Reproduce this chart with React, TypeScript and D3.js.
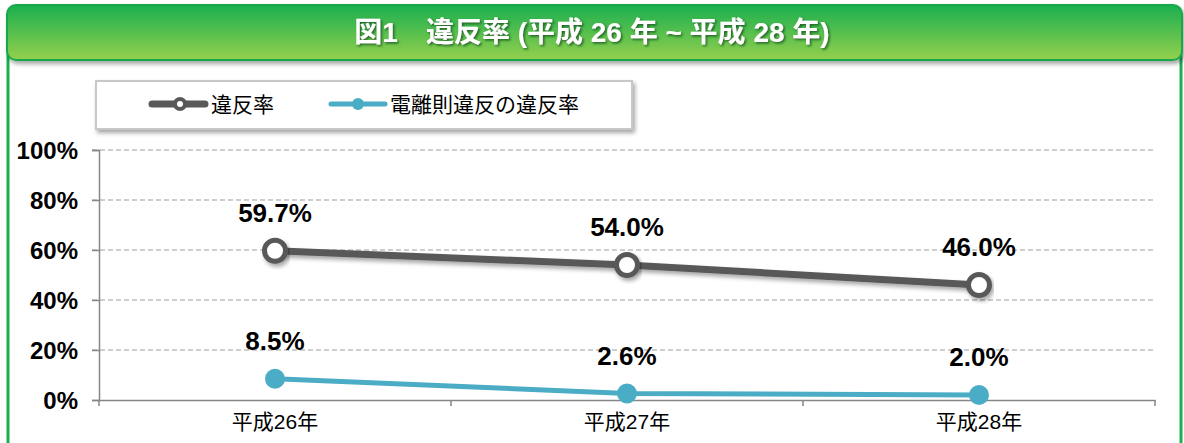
import React, { useEffect, useRef } from 'react';
import * as d3 from 'd3';

const W = 1184;
const H = 443;

const categories = ['平成26年', '平成27年', '平成28年'];
const violationRate = [59.7, 54.0, 46.0];
const ionizingRate = [8.5, 2.6, 2.0];
const yTicks = [0, 20, 40, 60, 80, 100];

const FONT = '"Liberation Sans", Arial, "Noto Sans CJK JP", sans-serif';

const App = () => {
  const ref = useRef<SVGSVGElement>(null);

  useEffect(() => {
    const svg = d3.select(ref.current);
    svg.selectAll('*').remove();

    const defs = svg.append('defs');
    const grad = defs.append('linearGradient').attr('id', 'hdr').attr('x1', 0).attr('y1', 0).attr('x2', 0).attr('y2', 1);
    grad.append('stop').attr('offset', '0%').attr('stop-color', '#1aaf4f');
    grad.append('stop').attr('offset', '100%').attr('stop-color', '#94d04e');

    const sh = defs.append('filter').attr('id', 'sh').attr('x', '-20%').attr('y', '-20%').attr('width', '140%').attr('height', '160%');
    sh.append('feDropShadow').attr('dx', 2).attr('dy', 3).attr('stdDeviation', 2).attr('flood-color', '#000').attr('flood-opacity', 0.35);
    const tsh = defs.append('filter').attr('id', 'tsh');
    tsh.append('feDropShadow').attr('dx', 1.5).attr('dy', 1.5).attr('stdDeviation', 1).attr('flood-color', '#0a4a1a').attr('flood-opacity', 0.8);

    // frame body
    svg.append('rect').attr('x', 8).attr('y', 30).attr('width', 1173).attr('height', 440)
      .attr('fill', '#fff').attr('stroke', '#1aaf4f').attr('stroke-width', 3);

    // header band
    svg.append('rect').attr('x', 7).attr('y', 5).attr('width', 1175).attr('height', 55).attr('rx', 9)
      .attr('fill', 'url(#hdr)').attr('stroke', '#18a94b').attr('stroke-width', 2).attr('filter', 'url(#sh)');
    svg.append('text').attr('x', 592).attr('y', 42).attr('text-anchor', 'middle')
      .attr('fill', '#fff').attr('font-size', 28).attr('font-weight', 'bold').attr('font-family', FONT)
      .attr('filter', 'url(#tsh)')
      .text('図1　違反率 (平成 26 年 ~ 平成 28 年)');

    const x = d3.scaleBand().domain(categories).range([99, 1155]);
    const y = d3.scaleLinear().domain([0, 100]).range([400, 150]);
    const cx = (c: string) => (x(c) as number) + x.bandwidth() / 2;

    // grid
    svg.append('g').selectAll('line').data(yTicks.filter(t => t > 0)).join('line')
      .attr('x1', 92).attr('x2', 1155).attr('y1', d => y(d)).attr('y2', d => y(d))
      .attr('stroke', '#bfbfbf').attr('stroke-width', 1.3).attr('stroke-dasharray', '5,3');

    // y axis
    const ya = svg.append('g').attr('transform', 'translate(99,0)')
      .call(d3.axisLeft(y).tickValues(yTicks).tickSize(7).tickPadding(14).tickFormat(d => `${d}%`));
    ya.select('.domain').attr('stroke', '#868686').attr('stroke-width', 1.5);
    ya.selectAll('line').attr('stroke', '#868686').attr('stroke-width', 1.5);
    ya.selectAll('text').attr('font-size', 24).attr('font-weight', 'bold').attr('font-family', FONT)
      .attr('fill', '#000').attr('dy', '0.35em');

    // x axis
    const xa = svg.append('g').attr('transform', 'translate(0,400)')
      .call(d3.axisBottom(x).tickSize(0).tickPadding(14));
    xa.select('.domain').attr('stroke', '#868686').attr('stroke-width', 1.5);
    xa.selectAll('text').attr('font-size', 21).attr('font-family', FONT).attr('fill', '#000');
    const bounds = [...categories.map(c => x(c) as number), 1155];
    svg.append('g').selectAll('line').data(bounds).join('line')
      .attr('x1', d => d).attr('x2', d => d).attr('y1', 400).attr('y2', 406)
      .attr('stroke', '#868686').attr('stroke-width', 1.5);

    const line = d3.line<number>().x((_, i) => cx(categories[i])).y(d => y(d));

    // blue series
    svg.append('path').datum(ionizingRate).attr('d', line).attr('fill', 'none')
      .attr('stroke', '#4bacc6').attr('stroke-width', 5);
    svg.append('g').selectAll('circle').data(ionizingRate).join('circle')
      .attr('cx', (_, i) => cx(categories[i])).attr('cy', d => y(d)).attr('r', 10).attr('fill', '#4bacc6');

    // gray series
    svg.append('path').datum(violationRate).attr('d', line).attr('fill', 'none')
      .attr('stroke', '#595959').attr('stroke-width', 7).attr('filter', 'url(#sh)');
    svg.append('g').selectAll('circle').data(violationRate).join('circle')
      .attr('cx', (_, i) => cx(categories[i])).attr('cy', d => y(d)).attr('r', 10.5)
      .attr('fill', '#fff').attr('stroke', '#595959').attr('stroke-width', 5).attr('filter', 'url(#sh)');

    // data labels
    const lbl = (data: number[]) => svg.append('g').selectAll('text').data(data).join('text')
      .attr('x', (_, i) => cx(categories[i])).attr('y', d => y(d) - 29)
      .attr('text-anchor', 'middle').attr('font-size', 26).attr('font-weight', 'bold')
      .attr('font-family', FONT).attr('fill', '#000').text(d => `${d.toFixed(1)}%`);
    lbl(violationRate);
    lbl(ionizingRate);

    // legend
    const lg = svg.append('g');
    lg.append('rect').attr('x', 96).attr('y', 81).attr('width', 536).attr('height', 48)
      .attr('fill', '#fff').attr('stroke', '#c8c8c8').attr('stroke-width', 2).attr('filter', 'url(#sh)');
    lg.append('line').attr('x1', 152).attr('x2', 205).attr('y1', 104).attr('y2', 104)
      .attr('stroke', '#595959').attr('stroke-width', 7).attr('stroke-linecap', 'round');
    lg.append('circle').attr('cx', 180).attr('cy', 104).attr('r', 5).attr('fill', '#fff')
      .attr('stroke', '#595959').attr('stroke-width', 4);
    lg.append('text').attr('x', 211).attr('y', 112).attr('font-size', 21).attr('font-family', FONT)
      .attr('fill', '#000').text('違反率');
    lg.append('line').attr('x1', 331).attr('x2', 385).attr('y1', 104).attr('y2', 104)
      .attr('stroke', '#4bacc6').attr('stroke-width', 5).attr('stroke-linecap', 'round');
    lg.append('circle').attr('cx', 358).attr('cy', 104).attr('r', 6).attr('fill', '#4bacc6');
    lg.append('text').attr('x', 390).attr('y', 112).attr('font-size', 21).attr('font-family', FONT)
      .attr('fill', '#000').text('電離則違反の違反率');
  }, []);

  return <svg ref={ref} width={W} height={H} style={{ position: 'absolute', left: 0, top: 0, background: '#fff' }} />;
};

export default App;
